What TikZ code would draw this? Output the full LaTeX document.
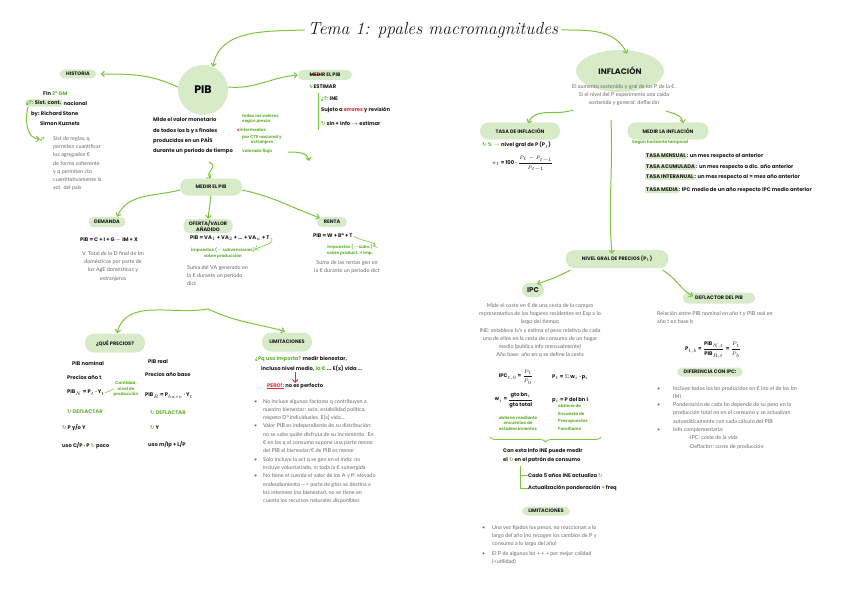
\documentclass[tikz,border=0pt]{standalone}
\usepackage{amsmath}
\usepackage{fontspec}
\newfontfamily\body{Lato}
\newfontfamily\hand{Poppins}
\newfontfamily\symb{DejaVu Sans}
\usetikzlibrary{positioning, arrows.meta, shapes.geometric, decorations.pathreplacing}
\definecolor{leaf}{RGB}{216,235,200}
\definecolor{lime}{RGB}{124,196,62}
\definecolor{grass}{RGB}{100,178,50}
\definecolor{ink}{RGB}{105,105,105}
\definecolor{marker}{RGB}{28,28,28}
\definecolor{alert}{RGB}{222,45,45}

\newcommand{\cyc}{{\symb\color{grass}↻}}
\newcommand{\hook}{{\symb\color{grass}↳}}
\newcommand{\hl}[1]{{\setlength{\fboxsep}{1pt}\colorbox{leaf}{#1}}}
\newlength{\strikelen}
\newcommand{\strike}[1]{\settowidth{\strikelen}{#1}\rlap{\color{alert}\rule[1.6pt]{\strikelen}{0.8pt}}#1}

\tikzset{
  blob/.style={fill=leaf, rounded corners=5pt, inner xsep=4pt, inner ysep=2pt, text=marker,
    font=\hand\bfseries\fontsize{5}{6}\selectfont},
  link/.style={draw=lime, line width=1pt, line cap=round, ->},
  grey/.style={font=\body\fontsize{5.4}{8.3}\selectfont, text=ink, inner sep=0pt},
  pen/.style={font=\hand\bfseries\fontsize{5.2}{6}\selectfont, text=marker, inner sep=0pt},
  gpen/.style={pen, text=grass, font=\hand\bfseries\fontsize{4.2}{5.4}\selectfont},
}

\begin{document}
\begin{tikzpicture}[x=1pt, y=-1pt, >={Straight Barb[length=3pt,width=5.5pt]}]
  \useasboundingbox (0,0) rectangle (848,599);

  % Title
  \node[font=\itshape\fontsize{17.5}{20}\selectfont, text=marker] (title) at (433,30) {Tema 1: ppales macromagnitudes};

  % PIB
  \node[circle, fill=leaf, minimum size=50pt, font=\hand\bfseries\fontsize{11}{12}\selectfont] (pib) at (203,90) {PIB};
  \draw[link] (title.west) to[out=182, in=80] ([xshift=10,yshift=-2]pib.north);
  \node[pen, anchor=west, align=left, font=\hand\bfseries\fontsize{5.2}{10.3}\selectfont] (pibdef) at (153,136)
    {Mide el valor monetario\\de todos los b y s finales\\producidos en un PAÍS\\durante un periodo de tiempo};
  \node[gpen, anchor=west, align=left] (n1) at (242,119) {todos los valores\\según precio};
  \node[gpen, anchor=west] (n2) at (237,130) {{\color{alert}x}intermedios};
  \node[gpen, anchor=west, align=center] (n3) at (242,140) {por CTE nacional y\\extranjero};
  \node[gpen, anchor=west] (n4) at (242,151) {valorado flujo};
  \coordinate (f0) at (288,152);
  \coordinate (f1) at (309,161);
  \draw[link] (f0) to[out=0, in=100] (f1);

  % Historia
  \node[blob, minimum width=37pt, minimum height=9pt] (hist) at (78,74) {HISTORIA};
  \draw[link] ([yshift=3]pib.west) to[out=155, in=0] ([xshift=4]hist.east);
  \node[pen, anchor=west] (fin) at (43,93) {Fin {\color{grass}2ª GM}};
  \node[pen, anchor=west, fill=leaf, rounded corners=3pt, inner sep=1.2pt] (sist) at (25,103) {{\color{grass}¿?:} Sist. cont.};
  \node[pen, anchor=west] (nac) at (sist.east) {\,nacional};
  \node[pen, anchor=west, align=left, font=\hand\bfseries\fontsize{5.2}{10}\selectfont] (by) at (31,118) {by: Richard Stone\\\hspace*{9pt}Simon Kuznets};
  \node[gpen, anchor=west] (q) at (40,139) {¿?};
  \draw[link] ([xshift=3]sist.south west) to[out=255, in=180] (q.west);
  \node[grey, anchor=north west, align=left] (sistdef) at (53,136)
    {Sist de reglas, q\\permiten cuantificar\\los agregados €\\de forma coherente\\y q permiten cto\\cuantitativamente la\\act. del país};

  % Medir el PIB (estimar)
  \node[blob, minimum width=54pt, minimum height=10pt] (medir) at (325,75) {\strike{MED}IR EL PIB};
  \draw[link] ([yshift=3]pib.east) to[out=-5, in=185] (medir.west);
  \node[pen, anchor=west] (est) at (309,87) {\hook ESTIMAR};
  \coordinate (e0) at (318,93);
  \coordinate (e1) at (318,130);
  \draw[lime, line width=0.8pt] (e0) -- (e1);
  \node[pen, anchor=west] (ine) at (321,99) {{\color{grass}¿?:} INE};
  \node[pen, anchor=west] (err) at (321,110) {Sujeto a {\color{alert}errores} y revisión};
  \node[pen, anchor=west] (sin) at (321,123) {\cyc\ sin + info $\to$ estimar};

  % Medir el PIB
  \node[blob, minimum width=62pt, minimum height=17pt, rounded corners=8pt] (mpib) at (211,187) {MEDIR EL PIB};
  \coordinate (s0) at (209,162);
  \draw[link] (s0) .. controls (220,167) and (204,172) .. (mpib.north);

  \node[blob, minimum width=37pt, minimum height=10pt] (dem) at (107,222) {DEMANDA};
  \draw[link] ([yshift=-3]mpib.west) to[out=195, in=65] ([xshift=10]dem.north);
  \node[pen, anchor=west] (demf) at (80,240) {PIB = C + I + G $-$ IM + X};
  \node[grey, align=center, anchor=north] (demt) at (113,251) {V. Total de la D final de bn\\domésticos por parte de\\los AgE domésticos y\\extranjeros};

  \node[blob, minimum width=49pt, align=center, inner ysep=1.5pt] (ofe) at (208,226) {OFERTA/VALOR\\AÑADIDO};
  \draw[link] (mpib.south) -- (ofe.north);
  \node[pen, anchor=west] (ofef) at (190,238) {PIB = VA$_1$ + VA$_2$ + ... + VA$_n$ + T};
  \node[gpen, align=center] (ofen) at (223,253) {impuestos ($-$subvenciones)\\sobre producción};
  \draw[link, line width=0.6pt] ([xshift=1]ofef.east) to[out=-40, in=30] ([yshift=-2]ofen.north east);
  \node[grey, anchor=north west, align=left] (ofet) at (187,265) {Suma del VA generado en\\la € durante un periodo\\dict};

  \node[blob, minimum width=30pt, minimum height=10pt] (ren) at (332,222) {RENTA};
  \draw[link] ([yshift=-3]mpib.east) to[out=-12, in=160] ([xshift=3,yshift=-1]ren.north west);
  \node[pen, anchor=west] (renf) at (313,236) {PIB = W + Bº + T};
  \node[gpen, align=center] (renn) at (350,250) {impuestos ($-$subv.)\\sobre product. + imp.};
  \draw[link, line width=0.6pt] ([xshift=1]renf.east) to[out=-40, in=30] ([yshift=-2]renn.north east);
  \node[grey, align=center, anchor=north] (rent) at (347,260) {Suma de las rentas gen en\\la € durante un periodo dict};

  % Precios y limitaciones
  \coordinate (fork) at (208,309);
  \node[blob, minimum width=60pt, minimum height=19pt, rounded corners=9pt] (prec) at (115,343) {¿QUÉ PRECIOS?};
  \node[blob, minimum width=50pt, minimum height=19pt, rounded corners=9pt] (lim) at (287,342) {LIMITACIONES};
  \draw[link] (fork) to[out=190, in=75] ([xshift=2]prec.north);
  \draw[link] (fork) to[out=-25, in=165] ([xshift=-2,yshift=1]lim.north);

  \node[pen, anchor=west] (nom) at (72,363) {PIB nominal};
  \node[pen, anchor=west] (pnom) at (67,377) {Precios año t};
  \node[pen, anchor=west] (fnom) at (67,393) {PIB$_N$ = P$_t$ · Y$_t$};
  \node[gpen, align=center] (cant) at (126,389) {Cantidad,\\nivel de\\producción};
  \draw[lime, line width=0.6pt] (fnom.east) -- (cant.west);
  \node[pen, anchor=west] (dnom) at (67,412) {\cyc\ {\color{grass}DEFLACTAR}};
  \node[pen, anchor=west] (vnom) at (62,428) {\cyc\ P y/o Y};
  \node[pen, anchor=west] (unom) at (62,446) {uso C/P · P \cyc\ poco};

  \node[pen, anchor=west] (real) at (148,362) {PIB real};
  \node[pen, anchor=west] (preal) at (145,374) {Precios año base};
  \node[pen, anchor=west] (freal) at (145,396) {PIB$_R$ = P$_{base}$ · Y$_t$};
  \node[pen, anchor=west] (dreal) at (150,413) {\cyc\ {\color{grass}DEFLACTAR}};
  \node[pen, anchor=west] (vreal) at (150,428) {\cyc\ Y};
  \node[pen, anchor=west] (ureal) at (148,445) {uso m/lp + L/P};

  \node[pen, anchor=west] (imp) at (255,359) {{\color{grass}¿Pq uso importa?} medir bienestar,};
  \node[pen, anchor=west] (imp2) at (261,369) {incluso nivel medio, {\color{grass}la €} ... E(x) vida ...};
  \node[pen, anchor=west] (pero) at (267,386) {{\color{alert}\underline{PERO!:}} no es perfecto};
  \draw[alert, line width=0.9pt, ->] (imp2.south -| pero.north) -- (pero.north);
  \node[grey, anchor=north west] (limt) at (254,397)
    {\begin{tabular}{@{}p{9pt}@{}l@{}}
     \textbullet & No incluye algunos factores q contribuyen a\\
                 & nuestro bienestar: ocio, estabilidad política,\\
                 & respeto Dº individuales, E[x] vida....\\
     \textbullet & Valor PIB es independiente de su distribución:\\
                 & no se sabe quién disfruta de su incremento. En\\
                 & € en las q el consumo supone una parte menor\\
                 & del PIB el bienestar/€ de PIB es menor\\
     \textbullet & Solo incluye la act q se gen en el mdo: no\\
                 & incluye voluntariado, ni toda la € sumergida\\
     \textbullet & No tiene el cuenta el valor de los A y P: elevado\\
                 & endeudamiento —> parte de gtos se destina a\\
                 & los intereses (no bienestar), no se tiene en\\
                 & cuenta los recursos naturales disponibles
     \end{tabular}};

  % Inflacion
  \node[ellipse, fill=leaf, minimum width=88pt, minimum height=42pt, text=marker,
    font=\hand\bfseries\fontsize{8}{9}\selectfont] (infl) at (620,71) {INFLACIÓN};
  \draw[link] (title.east) to[out=0, in=115] ([xshift=7,yshift=-4]infl.north);
  \node[grey, align=center, anchor=north] (infd) at (624,84) {El aumento sostenido y gral de los P de la €.\\Si el nivel del P experimenta una caída\\sostenida y general: deflación};

  \node[blob, minimum width=80pt, minimum height=17pt, rounded corners=8pt] (tasa) at (520,131) {TASA DE INFLACIÓN};
  \draw[link] ([xshift=1,yshift=-4]infd.south west) to[out=200, in=65] ([xshift=8,yshift=-1]tasa.north);
  \node[pen, anchor=west] (tasav) at (482,145) {\cyc\ {\color{grass}\% $\to$} nivel gral de P (P$_t$)};
  \node[pen, anchor=west] (tasaf) at (492,164) {$\pi_t$ = 100 · $\dfrac{P_t-P_{t-1}}{P_{t-1}}$};

  \node[blob, minimum width=81pt, minimum height=17pt, rounded corners=8pt] (minf) at (668,131) {MEDIR LA INFLACIÓN};
  \draw[link] ([xshift=-10,yshift=-5]infd.south east) to[out=-20, in=95] ([xshift=15,yshift=-1]minf.north);
  \node[gpen, anchor=west] (hor) at (632,142) {Según horizonte temporal};
  \node[pen, anchor=west] (tm) at (645,156) {\hl{TASA MENSUAL}: un mes respecto al anterior};
  \node[pen, anchor=west] (ta) at (645,167) {\hl{TASA ACUMULADA}: un mes respecto a dic. año anterior};
  \node[pen, anchor=west] (ti) at (645,177) {\hl{TASA INTERANUAL}: un mes respecto al = mes año anterior};
  \node[pen, anchor=west] (tme) at (645,190) {\hl{TASA MEDIA}: IPC medio de un año respecto IPC medio anterior};

  \node[blob, minimum width=103pt, minimum height=18pt, rounded corners=9pt] (niv) at (617,259) {NIVEL GRAL DE PRECIOS (P$_t$)};
  \coordinate (v0) at (611,120);
  \draw[link] (v0) .. controls (613,170) and (608,210) .. ([xshift=-5,yshift=-4]niv.north);

  % IPC
  \node[blob, minimum width=22pt, minimum height=14pt, rounded corners=7pt,
    font=\hand\bfseries\fontsize{7}{8}\selectfont] (ipc) at (533,290) {IPC};
  \draw[link] ([xshift=5,yshift=-2]niv.south west) to[bend left=5] ([xshift=4,yshift=-1]ipc.north);
  \node[grey, align=center, anchor=north] (ipcd) at (540,303) {Mide el coste en € de una cesta de la compra\\representativa de los hogares residentes en Esp a lo\\largo del tiempo\\INE: establece b/s y estima el peso relativo de cada\\uno de ellos en la cesta de consumo de un hogar\\medio (publica info mensualmente)\\Año base: año en q se define la cesta};
  \node[pen] (ipcf) at (516,377) {IPC$_{t,0}$ = $\dfrac{P_t}{P_0}$};
  \node[pen, anchor=west] (ptf) at (552,377) {P$_t$ = $\Sigma$ w$_i$ · p$_i$};
  \node[pen] (wif) at (514,400) {w$_i$ = $\dfrac{\mbox{gto bn$_i$}}{\mbox{gto total}}$};
  \node[pen, anchor=west] (pif) at (552,400) {p$_i$ = P del bn i};
  \node[gpen, align=center] (obt1) at (518,423) {obtiene mediante\\encuestas de\\establecimientos};
  \node[gpen, align=left, anchor=north west, font=\hand\bfseries\fontsize{4.2}{7.7}\selectfont] (obt2) at (558,404) {obtiene de\\Encuesta de\\Presupuestos\\Familiares};
  \coordinate (b0) at (490,437);
  \coordinate (b1) at (601,437);
  \draw[lime, line width=0.8pt, decorate, decoration={brace, mirror, amplitude=5pt}] (b0) -- (b1);
  \node[pen, anchor=west, align=left, font=\hand\bfseries\fontsize{5.2}{9}\selectfont] (con) at (503,456) {Con esta info INE puede medir\\el \cyc\ en el patrón de consumo};
  \node[pen, anchor=west] (cada) at (528,475) {Cada 5 años INE actualiza \cyc};
  \node[pen, anchor=west] (act) at (528,488) {Actualización ponderación {\color{grass}+} freq};
  \coordinate (t0) at (520,466);
  \draw[lime, line width=0.8pt] (t0) |- (cada.west);
  \draw[lime, line width=0.8pt] (t0) |- (act.west);

  \node[blob, minimum width=48pt, minimum height=9pt] (lim2) at (546,511) {LIMITACIONES};
  \node[grey, anchor=north west] (lim2t) at (482,523)
    {\begin{tabular}{@{}p{10pt}@{}l@{}}
     \textbullet & Una vez fijados los pesos, no reaccionan a lo\\
                 & largo del año (no recogen los cambios de P y\\
                 & consumo a lo largo del año)\\[1.5pt]
     \textbullet & El P de algunos bn + + + por mejor calidad\\
                 & (+utilidad)
     \end{tabular}};

  % Deflactor
  \node[blob, minimum width=72pt, minimum height=11pt] (def) at (719,298) {DEFLACTOR DEL PIB};
  \draw[link] ([xshift=-6,yshift=-2]niv.south east) to[out=-30, in=150] ([xshift=-26,yshift=-4]def.north);
  \node[grey, anchor=north west, align=left] (deft) at (657,311) {Relación entre PIB nominal en año t y PIB real en\\año t en base b};
  \node[pen] (deff) at (713,350) {P$_{t,b}$ = $\dfrac{\mbox{PIB$_{N,t}$}}{\mbox{PIB$_{R,t}$}}$ = $\dfrac{P_t}{P_b}$};
  \node[blob, minimum width=66pt, minimum height=9pt] (dif) at (710,372) {DIFERENCIA CON IPC:};
  \node[grey, anchor=north west] (dift) at (657,384)
    {\begin{tabular}{@{}p{16pt}@{}l@{}}
     \textbullet & Incluye todos los bn producidos en € (no el de los bn\\
                 & IM)\\
     \textbullet & Ponderación de cada bn depende de su peso en la\\
                 & producción total no en el consumo y se actualizan\\
                 & automáticamente con cada cálculo del PIB\\
     \textbullet & Info complementaria:\\
                 & \hspace*{15pt}-IPC: coste de la vida\\
                 & \hspace*{15pt}-Deflactor: coste de producción
     \end{tabular}};
\end{tikzpicture}
\end{document}
